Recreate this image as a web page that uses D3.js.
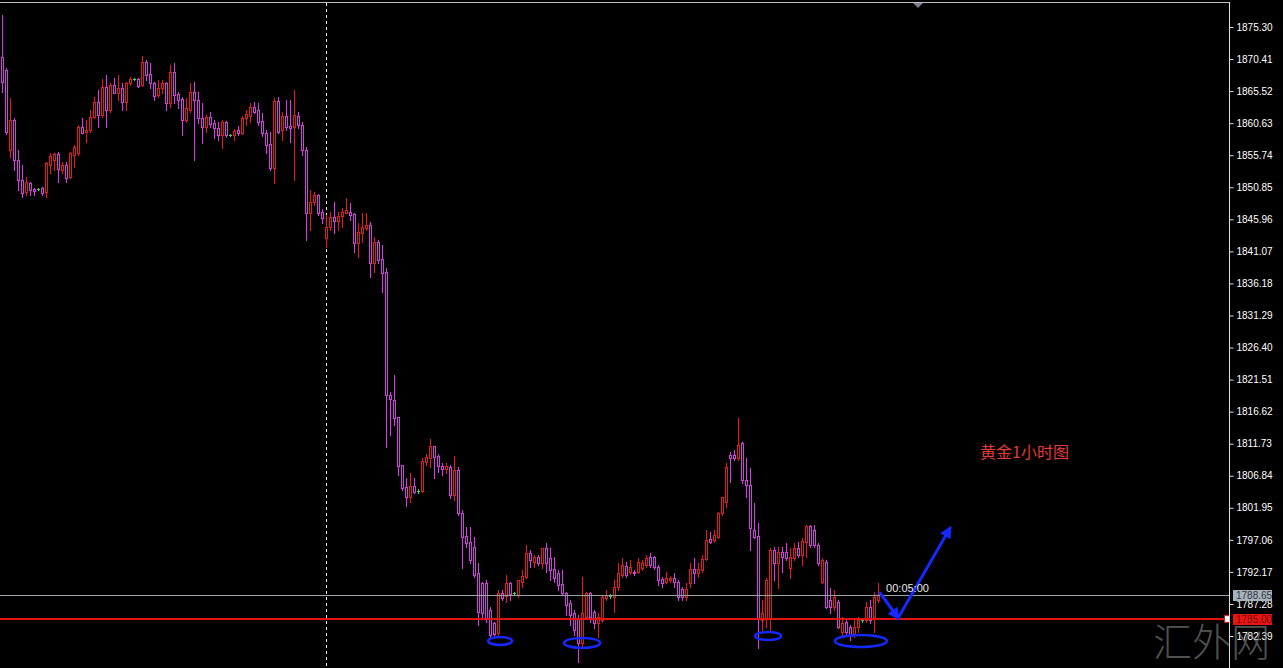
<!DOCTYPE html>
<html><head><meta charset="utf-8">
<script src="https://cdn.jsdelivr.net/npm/d3@7"></script>
<style>html,body{margin:0;padding:0;background:#000;overflow:hidden}</style>
</head><body><svg id="c" width="1283" height="668"></svg>
<script>
const opens=[1870.7,1868.7,1856.5,1861.1,1855.0,1852.0,1850.1,1851.5,1850.6,1850.6,1850.7,1850.1,1854.2,1855.0,1855.9,1853.5,1854.2,1852.4,1855.8,1856.1,1860.0,1859.3,1859.6,1861.6,1863.9,1861.9,1866.2,1862.6,1866.5,1865.2,1866.0,1863.9,1866.8,1867.4,1867.4,1866.5,1870.0,1868.1,1866.8,1864.9,1866.0,1866.8,1863.7,1868.4,1865.1,1864.3,1861.1,1862.6,1865.4,1864.2,1861.4,1860.0,1861.6,1860.7,1859.9,1858.8,1860.8,1858.8,1858.8,1859.6,1859.1,1861.4,1861.7,1863.1,1862.6,1861.0,1859.1,1857.5,1853.8,1864.0,1859.6,1861.7,1860.2,1860.0,1861.7,1860.4,1856.5,1846.9,1848.6,1849.7,1847.1,1843.1,1844.8,1846.3,1845.7,1846.5,1846.9,1847.1,1846.8,1842.3,1843.9,1844.6,1845.1,1839.3,1842.5,1839.9,1837.9,1819.2,1818.4,1815.8,1808.5,1805.1,1803.6,1805.3,1804.5,1804.5,1808.9,1809.6,1811.4,1809.9,1808.3,1807.9,1808.2,1803.9,1807.7,1801.2,1797.7,1796.7,1796.0,1792.0,1790.5,1790.5,1786.4,1784.4,1782.9,1788.9,1788.5,1790.5,1788.9,1788.6,1790.6,1791.4,1795.1,1793.7,1794.4,1793.5,1795.8,1794.3,1792.6,1792.0,1790.3,1788.9,1787.4,1785.9,1785.0,1781.3,1785.3,1788.9,1786.1,1784.4,1784.8,1788.2,1788.5,1788.3,1789.9,1791.7,1793.1,1792.2,1792.2,1792.2,1792.8,1793.2,1794.4,1794.4,1792.9,1791.1,1790.6,1790.9,1791.2,1790.6,1789.6,1788.3,1790.5,1792.6,1792.0,1792.5,1794.1,1797.2,1797.0,1797.5,1801.2,1802.8,1810.0,1810.0,1809.6,1811.8,1806.2,1805.4,1798.6,1797.7,1784.8,1785.1,1785.1,1795.5,1793.5,1795.2,1795.2,1792.8,1794.3,1795.8,1794.7,1796.7,1799.2,1798.6,1796.3,1790.6,1793.7,1787.9,1786.8,1787.6,1783.0,1784.5,1783.8,1782.5,1783.8,1784.8,1784.8,1786.8,1785.3,1787.9];
const highs=[1877.1,1869.1,1864.5,1861.4,1856.5,1854.2,1852.4,1851.7,1850.7,1850.7,1850.9,1854.7,1856.1,1856.1,1856.2,1854.7,1854.7,1856.2,1857.3,1860.4,1861.4,1861.1,1862.6,1864.6,1865.7,1867.4,1868.0,1866.8,1867.5,1868.0,1866.8,1866.9,1867.7,1867.5,1867.5,1870.9,1870.3,1869.8,1866.9,1867.2,1867.2,1866.9,1869.5,1869.8,1865.4,1864.6,1864.5,1866.8,1866.9,1865.4,1863.7,1861.9,1862.3,1861.1,1860.8,1861.1,1861.0,1858.9,1859.7,1860.2,1861.7,1862.6,1863.7,1863.9,1863.7,1862.2,1859.6,1859.3,1864.5,1864.6,1862.3,1864.2,1864.2,1865.7,1862.3,1860.8,1857.0,1850.4,1850.1,1849.8,1847.5,1846.6,1847.1,1848.6,1847.1,1847.7,1849.2,1848.5,1846.9,1845.4,1846.9,1846.9,1845.6,1843.3,1842.8,1842.0,1838.5,1819.6,1822.2,1815.8,1808.5,1806.5,1807.3,1806.5,1804.8,1809.6,1810.2,1812.4,1811.4,1810.2,1808.8,1808.8,1808.5,1809.9,1808.2,1801.6,1799.0,1799.0,1797.5,1793.5,1790.6,1790.9,1786.8,1784.5,1789.4,1789.4,1791.7,1790.6,1789.1,1790.9,1792.5,1796.3,1795.5,1794.7,1794.7,1795.8,1796.6,1795.8,1794.4,1792.5,1792.5,1789.1,1787.9,1786.4,1785.6,1791.4,1789.1,1789.1,1786.4,1785.9,1788.6,1789.4,1788.8,1790.9,1793.5,1794.3,1793.7,1794.0,1792.5,1794.3,1794.0,1794.7,1795.1,1794.6,1793.2,1791.4,1792.2,1791.5,1792.0,1790.9,1789.9,1790.5,1793.5,1794.3,1793.5,1794.7,1798.6,1798.3,1798.6,1801.3,1803.6,1808.8,1810.5,1810.8,1815.6,1812.0,1809.6,1808.0,1802.7,1799.6,1787.9,1791.2,1795.8,1796.0,1796.0,1796.0,1796.6,1795.8,1796.6,1796.7,1797.3,1799.3,1799.3,1799.3,1796.6,1794.3,1794.0,1789.7,1789.4,1787.9,1785.3,1785.1,1784.1,1785.1,1785.3,1785.0,1787.6,1787.9,1789.1,1790.5];
const lows=[1865.4,1859.0,1855.5,1853.5,1850.4,1849.4,1849.7,1849.7,1849.7,1850.4,1849.7,1849.4,1853.0,1853.5,1851.7,1853.0,1851.7,1852.3,1853.9,1855.8,1859.1,1857.8,1859.3,1861.4,1860.0,1861.6,1860.0,1862.3,1865.2,1864.2,1862.6,1862.6,1866.5,1867.2,1866.2,1866.3,1867.2,1866.0,1864.2,1864.6,1865.2,1862.6,1863.1,1863.7,1862.9,1858.8,1860.8,1862.3,1855.0,1860.7,1857.6,1859.3,1860.0,1858.4,1858.1,1856.8,1858.5,1858.6,1858.1,1858.8,1859.0,1860.4,1860.8,1862.2,1860.4,1858.7,1856.1,1853.5,1851.5,1859.1,1858.1,1859.6,1857.8,1852.0,1859.9,1855.8,1842.8,1844.3,1848.1,1846.6,1845.4,1841.7,1844.3,1843.9,1844.3,1844.8,1846.9,1845.9,1841.0,1840.2,1842.5,1844.3,1837.2,1837.9,1839.3,1834.9,1811.2,1813.1,1814.6,1807.0,1804.7,1802.2,1802.8,1804.2,1804.2,1804.4,1808.5,1808.2,1806.5,1807.4,1807.0,1807.3,1803.4,1803.1,1800.9,1792.8,1796.0,1793.5,1791.4,1784.1,1785.3,1784.5,1782.2,1782.5,1782.2,1787.9,1787.6,1787.9,1788.6,1788.3,1789.9,1791.2,1792.9,1792.9,1793.2,1792.8,1792.2,1790.9,1790.6,1789.4,1788.6,1785.6,1784.1,1782.5,1778.4,1780.7,1785.1,1784.5,1783.6,1782.2,1784.5,1787.9,1788.2,1786.1,1789.4,1791.4,1791.4,1791.9,1791.7,1792.0,1792.5,1792.9,1792.9,1792.6,1790.2,1789.9,1790.5,1790.6,1789.9,1787.9,1787.9,1787.9,1789.9,1790.5,1791.4,1792.2,1794.0,1796.6,1796.7,1797.3,1800.9,1802.1,1805.9,1809.2,1809.2,1805.7,1803.6,1795.5,1797.3,1780.6,1783.3,1783.8,1783.3,1790.9,1789.7,1792.2,1794.0,1791.2,1794.0,1794.4,1793.2,1794.4,1796.0,1796.0,1793.2,1790.5,1786.7,1785.9,1786.4,1783.6,1782.2,1782.5,1781.8,1782.2,1783.0,1784.5,1784.5,1784.4,1783.0,1787.6];
const closes=[1866.9,1859.3,1861.1,1855.0,1852.0,1850.0,1851.7,1850.4,1850.3,1850.6,1850.0,1854.6,1855.6,1855.9,1853.6,1854.2,1852.3,1856.1,1857.0,1860.0,1859.1,1859.6,1861.6,1863.9,1861.9,1866.2,1862.6,1866.5,1865.2,1866.0,1863.9,1866.8,1867.4,1867.4,1866.3,1870.0,1868.0,1866.8,1864.8,1866.0,1866.8,1863.7,1868.4,1864.9,1864.2,1861.1,1862.9,1865.4,1864.2,1861.4,1860.0,1861.6,1860.5,1859.9,1858.8,1860.8,1858.8,1858.8,1859.4,1859.1,1861.4,1862.0,1863.1,1862.3,1860.8,1859.1,1857.3,1853.8,1864.0,1859.3,1861.7,1860.0,1859.9,1861.9,1860.4,1856.5,1846.9,1848.6,1849.7,1846.9,1846.2,1844.8,1846.3,1845.7,1846.5,1847.1,1847.4,1846.6,1842.3,1844.0,1844.8,1845.1,1839.3,1842.5,1839.8,1837.8,1819.2,1818.5,1815.6,1808.3,1805.0,1803.6,1805.3,1804.4,1804.5,1809.1,1809.7,1811.4,1809.7,1808.3,1807.9,1808.3,1803.9,1807.7,1801.2,1797.5,1796.6,1794.0,1791.7,1786.1,1785.9,1785.1,1782.5,1782.7,1788.9,1788.2,1790.5,1788.8,1788.9,1790.9,1791.5,1795.1,1794.0,1794.4,1793.5,1795.8,1793.5,1792.5,1791.2,1790.2,1788.9,1787.1,1785.6,1783.3,1781.3,1785.9,1788.9,1785.3,1784.4,1785.3,1788.3,1788.6,1788.5,1789.9,1792.0,1793.2,1791.7,1792.9,1792.0,1793.7,1793.5,1794.3,1793.2,1792.9,1790.9,1790.5,1791.2,1791.2,1790.6,1788.3,1788.3,1789.6,1792.6,1792.0,1792.6,1794.1,1797.0,1796.7,1797.8,1801.2,1803.6,1808.2,1809.6,1809.6,1811.5,1806.2,1805.4,1798.9,1797.5,1785.1,1785.9,1790.9,1795.5,1793.5,1795.2,1794.4,1794.3,1794.4,1795.8,1794.7,1796.9,1799.2,1796.3,1796.3,1793.5,1794.0,1786.8,1786.8,1788.3,1783.8,1784.4,1783.0,1782.5,1783.8,1784.8,1784.8,1786.8,1784.8,1788.3,1788.65];

const tickLabels=["1875.30","1870.41","1865.52","1860.63","1855.74","1850.85","1845.96","1841.07","1836.18","1831.29","1826.40","1821.51","1816.62","1811.73","1806.84","1801.95","1797.06","1792.17","1787.28","1782.39"];
const bidPrice=1788.65;
const levelPrice=1785.00;
const timerText="00:05:00";
const titleText="黄金1小时图";
const watermark="汇外网";
const separatorIndex=81;
// annotation ellipses (index, price) and arrow path (index, price)
const ellipseIdx=[124.4,144.9,191.4,214.6];
const ellipsePrice=[1781.63,1781.33,1782.39,1781.63];
const ellipseRx=[12,18,13,26];
const ellipseRy=[4,5,4,6];
const arrowIdx=[219.4,223.9,236.9];
const arrowPrice=[1788.95,1785.14,1798.87];

const W=1283,H=668, axisX=1229.5;
const svg=d3.select("#c");
svg.append("rect").attr("width",W).attr("height",H).attr("fill","#000");

const x=d3.scaleLinear().domain([0,219]).range([2.5,878.5]);
const y=d3.scaleLinear().domain([1782.39,1875.30]).range([636,27]);

const BULL="#e41c1c", BEAR="#d83ce6", DOJI="#3cdc3c";

// top border
svg.append("line").attr("x1",0).attr("x2",axisX).attr("y1",2.5).attr("y2",2.5).attr("stroke","#bfbfbf").attr("stroke-width",1);

// period separator
svg.append("line").attr("x1",x(separatorIndex)).attr("x2",x(separatorIndex)).attr("y1",3).attr("y2",H)
  .attr("stroke","#e8e8e8").attr("stroke-dasharray","3,3").attr("stroke-width",1);

// shift marker triangle
svg.append("path").attr("d","M913,3L923,3L918,8Z").attr("fill","#7a8088");

const data=opens.map((o,i)=>({i,o,h:highs[i],l:lows[i],c:closes[i]}));
const g=svg.append("g").attr("shape-rendering","crispEdges");
data.forEach(d=>{
  const cx=x(d.i);
  const col=d.c>d.o?BULL:(d.c<d.o?BEAR:DOJI);
  g.append("line").attr("x1",cx).attr("x2",cx).attr("y1",Math.round(y(d.h))).attr("y2",Math.round(y(d.l))+1)
    .attr("stroke",col).attr("stroke-width",1);
  const top=Math.round(y(Math.max(d.o,d.c))), bot=Math.round(y(Math.min(d.o,d.c)));
  if(bot-top<1){
    g.append("line").attr("x1",cx-1.5).attr("x2",cx+1.5).attr("y1",top+0.5).attr("y2",top+0.5).attr("stroke",col).attr("stroke-width",1);
  } else {
    g.append("rect").attr("x",cx-1).attr("y",top+0.5).attr("width",2).attr("height",bot-top)
      .attr("fill","#000").attr("stroke",col).attr("stroke-width",1);
  }
});

// bid line
svg.append("line").attr("x1",0).attr("x2",axisX).attr("y1",Math.round(y(bidPrice))+0.5).attr("y2",Math.round(y(bidPrice))+0.5)
  .attr("stroke","#9aa2aa").attr("stroke-width",1);
// level line
svg.append("line").attr("x1",0).attr("x2",axisX).attr("y1",y(levelPrice)).attr("y2",y(levelPrice))
  .attr("stroke","#e41212").attr("stroke-width",2);
svg.append("rect").attr("x",1224.5).attr("y",y(levelPrice)-3.5).attr("width",6).attr("height",7)
  .attr("fill","#ffffff").attr("stroke","#e41212").attr("stroke-width",1);

// annotations
const blue="#1428ff";
ellipseIdx.forEach((e,k)=>{
  svg.append("ellipse").attr("cx",x(e)).attr("cy",y(ellipsePrice[k])).attr("rx",ellipseRx[k]).attr("ry",ellipseRy[k])
    .attr("fill","none").attr("stroke",blue).attr("stroke-width",2.5);
});
const defs=svg.append("defs");
defs.append("marker").attr("id","ah").attr("viewBox","0 0 10 10").attr("refX",8).attr("refY",5)
  .attr("markerWidth",4).attr("markerHeight",4).attr("orient","auto")
  .append("path").attr("d","M0,0L10,5L0,10Z").attr("fill",blue);
for(let k=0;k<arrowIdx.length-1;k++){
  svg.append("line").attr("x1",x(arrowIdx[k])).attr("y1",y(arrowPrice[k])).attr("x2",x(arrowIdx[k+1])).attr("y2",y(arrowPrice[k+1]))
    .attr("stroke",blue).attr("stroke-width",3).attr("stroke-linecap","round").attr("marker-end","url(#ah)");
}

// timer text
svg.append("text").attr("x",x(220.9)).attr("y",y(bidPrice)-3).text(timerText)
  .attr("fill","#e6e6e6").attr("font-family","Liberation Sans, Arial, sans-serif").attr("font-size",11);

// title
svg.append("text").attr("x",980).attr("y",458).text(titleText)
  .attr("fill","#e43a3a").attr("font-family","Noto Sans CJK SC").attr("font-size",16);

// axis
svg.append("rect").attr("x",axisX+0.5).attr("y",0).attr("width",W-axisX).attr("height",H).attr("fill","#000");
svg.append("line").attr("x1",axisX).attr("x2",axisX).attr("y1",2).attr("y2",H).attr("stroke","#e0e0e0").attr("stroke-width",1);
const ax=d3.axisRight(y).tickValues(tickLabels.map(Number)).tickFormat(d3.format(".2f")).tickSize(4).tickPadding(3);
const axg=svg.append("g").attr("transform",`translate(${axisX},0)`).call(ax);
axg.select(".domain").remove();
axg.selectAll("line").attr("stroke","#e0e0e0");
axg.selectAll("text").attr("fill","#ffffff").attr("font-family","Liberation Sans, Arial, sans-serif").attr("font-size",10);

// price boxes
function priceBox(p,bg,fg){
  const yy=y(p);
  svg.append("rect").attr("x",1233).attr("y",Math.round(yy)-5).attr("width",39).attr("height",11).attr("fill",bg);
  svg.append("text").attr("x",1236).attr("y",Math.round(yy)+4).text(p.toFixed(2))
    .attr("fill",fg).attr("font-family","Liberation Sans, Arial, sans-serif").attr("font-size",10);
}
priceBox(bidPrice,"#a7b2bd","#2f3742");
priceBox(levelPrice,"#ea1414","#7a0c0c");

// watermark
svg.append("text").attr("x",1153).attr("y",656).text(watermark)
  .attr("fill","#8a8a8a").attr("fill-opacity",0.6).attr("font-family","Noto Sans CJK SC").attr("font-weight",300).attr("font-size",39);
</script></body></html>
